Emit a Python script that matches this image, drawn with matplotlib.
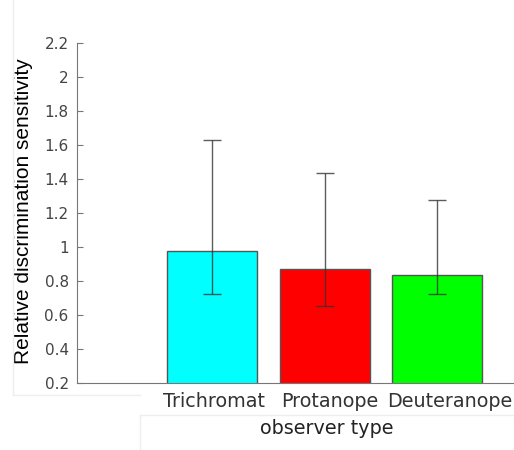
import matplotlib.pyplot as plt
import matplotlib.transforms as mtransforms
import numpy as np

# observer types and mean relative sensitivity
categories = ['Trichromat', 'Protanope', 'Deuteranope']
means = [0.978, 0.872, 0.835]
err_low = [0.724, 0.653, 0.724]
err_high = [1.629, 1.435, 1.276]
bar_colors = ['#00ffff', '#ff0000', '#00ff00']
yticks = [0.2, 0.4, 0.6, 0.8, 1.0, 1.2, 1.4, 1.6, 1.8, 2.0, 2.2]

plt.rcParams['font.family'] = ['DejaVu Sans']

fig = plt.figure(figsize=(5.14, 4.5), dpi=100)
ax = fig.add_axes([77 / 514, 67 / 450, 437 / 514, 340 / 450])

x = np.arange(1, len(categories) + 1)
means = np.array(means)
yerr = np.array([means - np.array(err_low), np.array(err_high) - means])

ax.bar(x, means, width=0.8, color=bar_colors, edgecolor='#555555', linewidth=1.0)
ax.errorbar(x, means, yerr=yerr, fmt='none', ecolor='#333333', elinewidth=1.0,
            capsize=6.5, capthick=1.0, alpha=0.8)

ax.set_xlim(-0.2, 3.68)
ax.set_ylim(0.2, 2.2)
ax.set_yticks(yticks)
ax.set_yticklabels(['%g' % v for v in yticks])
ax.set_xticks(x)
ax.set_xticklabels([])

# category labels sit a bit right of the bar centres in the original
trans = mtransforms.blended_transform_factory(ax.transData, ax.transAxes)
for xi, cat, dx in zip(x, categories, [1.5, 4.5, 12]):
    t = trans + mtransforms.ScaledTranslation(dx / 100, -0.09, fig.dpi_scale_trans)
    ax.text(xi, 0, cat, transform=t, ha='center', va='top',
            fontsize=13.8, color='#333333')

ax.spines['top'].set_visible(False)
ax.spines['right'].set_visible(False)
ax.spines['left'].set_color('#777777')
ax.spines['bottom'].set_color('#777777')
ax.tick_params(axis='y', direction='in', length=4, color='#777777',
               labelsize=11, labelcolor='#444444', pad=6)
ax.tick_params(axis='x', length=0)

ax.set_ylabel('Relative discrimination sensitivity', fontsize=15,
              family='Liberation Sans', color='#000000')
ax.yaxis.set_label_coords(-44 / 437, 0.505)
ax.set_xlabel('observer type', fontsize=13.8, color='#222222')
ax.xaxis.set_label_coords(0.572, -0.105)

# faint screenshot frame lines
line_kw = dict(color='#eeeeee', linewidth=1.0, transform=fig.transFigure)
fig.add_artist(plt.Line2D([13 / 514, 13 / 514], [55 / 450, 1.0], **line_kw))
fig.add_artist(plt.Line2D([13 / 514, 140 / 514], [55 / 450, 55 / 450], **line_kw))
fig.add_artist(plt.Line2D([140 / 514, 1.0], [35 / 450, 35 / 450], **line_kw))
fig.add_artist(plt.Line2D([140 / 514, 140 / 514], [0, 35 / 450], **line_kw))

fig.savefig('out.png', dpi=100)
